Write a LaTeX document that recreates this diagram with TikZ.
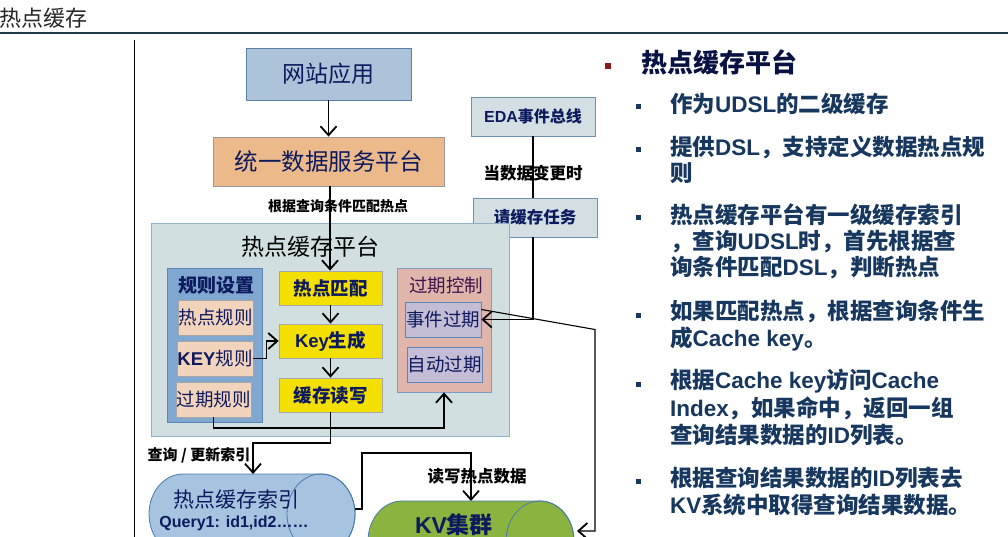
\documentclass[tikz,border=0pt]{standalone}
\usepackage{fontspec}
\setmainfont{Noto Sans CJK SC}
\newfontfamily\latin{Liberation Sans}
\usetikzlibrary{arrows.meta,calc}
\definecolor{navy}{HTML}{0D1A5E}
\definecolor{txtblue}{HTML}{17375E}
\definecolor{bulletred}{HTML}{8B1A1A}
\definecolor{webfill}{HTML}{ADC3D9}
\definecolor{webdraw}{HTML}{5B7FA6}
\definecolor{udfill}{HTML}{ECB98B}
\definecolor{grayfill}{HTML}{D3DFE3}
\definecolor{graydraw}{HTML}{6E8FAE}
\definecolor{bigfill}{HTML}{D2DFE0}
\definecolor{bigdraw}{HTML}{90AEC4}
\definecolor{rulefill}{HTML}{7FA7D0}
\definecolor{ruledraw}{HTML}{5B86B8}
\definecolor{peach}{HTML}{F2D4BD}
\definecolor{yel}{HTML}{F4E000}
\definecolor{pinkfill}{HTML}{E0B5AB}
\definecolor{lav}{HTML}{C4BDD5}
\definecolor{idxfill}{HTML}{A6C4E0}
\definecolor{cyldraw}{HTML}{4A7AAA}
\definecolor{kvfill}{HTML}{8AB43F}
\definecolor{topline}{HTML}{1F3A48}
\newcommand\fz[1]{\fontsize{#1}{#1}\selectfont}
\newcommand\lt[1]{{\latin #1}}
\begin{document}
\begin{tikzpicture}[x=1pt,y=-1pt,
  box/.style={draw, rectangle, inner sep=0pt, line width=0.8pt, text=navy, align=center},
  arr/.style={-{Straight Barb[length=9pt,width=16pt,line width=1.8pt]}, line width=1.1pt},
  ln/.style={line width=1.1pt},
  lbl/.style={inner sep=0pt, text=black},
  sq/.style={fill=txtblue, minimum size=5pt, inner sep=0pt},
  rtxt/.style={anchor=west, inner sep=0pt, text=txtblue, font=\fz{22.5}\bfseries}
]
\useasboundingbox[fill=white] (0,0) rectangle (1008,537);

% header
\node[lbl, anchor=west, text=black!85, font=\fz{22}] (title) at (-1,18) {热点缓存};
\draw[topline, line width=1.2pt] (0,33) coordinate (hl) -- (1008,33) coordinate (hr);
\draw[black, line width=1pt] (134,40) coordinate (vt) -- (134,537) coordinate (vb);

% top boxes
\node[box, fill=webfill, draw=webdraw, minimum width=165pt, minimum height=52pt, font=\fz{23}] (web) at (328.5,74) {网站应用};
\node[box, fill=udfill, draw=gray!80, minimum width=231pt, minimum height=49pt, font=\fz{23.5}] (ud) at (328.5,161.5) {统一数据服务平台};
\node[box, fill=grayfill, draw=graydraw, minimum width=124pt, minimum height=39pt, font=\fz{16}\bfseries] (eda) at (533,116.5) {\lt{EDA}事件总线};
\node[box, fill=grayfill, draw=graydraw, minimum width=124pt, minimum height=39pt, font=\fz{16.5}\bfseries] (task) at (535,217.5) {请缓存任务};

% big platform
\node[box, fill=bigfill, draw=bigdraw, minimum width=358pt, minimum height=213pt] (hcp) at (330.5,329.5) {};
\node[lbl, font=\fz{23}] (hcpt) at (310,247) {热点缓存平台};

% rules panel
\node[box, fill=rulefill, draw=ruledraw, minimum width=95pt, minimum height=154pt] (rules) at (214.5,345) {};
\node[lbl, text=navy, font=\fz{19}\bfseries] (rulest) at (216,285) {规则设置};
\node[box, fill=peach, draw=gray!70, minimum width=75pt, minimum height=35pt, font=\fz{18.5}] (hotrule) at (215.5,317.5) {热点规则};
\node[box, fill=peach, draw=gray!70, minimum width=76pt, minimum height=35pt, font=\fz{18.5}] (keyrule) at (215,358.5) {\lt{\bfseries KEY}规则};
\node[box, fill=peach, draw=gray!70, minimum width=75pt, minimum height=35pt, font=\fz{18.5}] (exprule) at (213.5,399.5) {过期规则};

% middle column
\node[box, fill=yel, draw=gray!70, minimum width=103pt, minimum height=34pt, font=\fz{18.5}\bfseries] (match) at (330.5,288) {热点匹配};
\node[box, fill=yel, draw=gray!70, minimum width=103pt, minimum height=34pt, font=\fz{18.5}\bfseries] (keygen) at (330.5,341) {\lt{Key}生成};
\node[box, fill=yel, draw=gray!70, minimum width=103pt, minimum height=34pt, font=\fz{18.5}\bfseries] (rw) at (330.5,395) {缓存读写};

% expiry panel
\node[box, fill=pinkfill, draw=ruledraw!80, minimum width=94pt, minimum height=124pt] (expctl) at (444,330) {};
\node[lbl, text=navy!80!red, font=\fz{18.5}] (expctlt) at (446,285) {过期控制};
\node[box, fill=lav, draw=ruledraw, minimum width=76pt, minimum height=35pt, font=\fz{18.5}] (evexp) at (443,319.5) {事件过期};
\node[box, fill=lav, draw=ruledraw, minimum width=75pt, minimum height=35pt, font=\fz{18.5}] (autoexp) at (444.5,364.5) {自动过期};

% cylinders
\draw[fill=idxfill, draw=cyldraw, line width=0.8pt]
  (183,474) -- (321,474) arc (-90:90:34 and 40) -- (183,554) arc (90:270:34 and 40) -- cycle;
\draw[draw=cyldraw, line width=0.8pt] (321,514) ellipse (34 and 40);
\node[lbl, text=navy, font=\fz{21}] (idxt) at (236,500) {热点缓存索引};
\node[lbl, text=navy, font=\fz{16}\bfseries\latin] (idxq) at (234,523) {Query1: id1,id2……};
\coordinate (idxtop) at (253,474);
\coordinate (idxr) at (355,509);

\draw[fill=kvfill, draw=cyldraw, line width=0.8pt]
  (402,501) -- (540,501) arc (-90:90:34 and 40) -- (402,581) arc (90:270:34 and 40) -- cycle;
\draw[draw=cyldraw, line width=0.8pt] (540,541) ellipse (34 and 40);
\node[lbl, text=navy, font=\fz{23}\bfseries] (kvt) at (454,525) {\lt{KV}集群};
\coordinate (kvtop) at (471,501);
\coordinate (kvr) at (577,531);

% connectors
\draw[arr] (web.south) -- (web.south |- ud.north);
\draw[arr] (ud.south -| 330,0) -- (330,0 |- match.north);
\node[lbl, font=\fz{14}\bfseries] (lbl1) at (338,206) {根据查询条件匹配热点};

\draw[ln] (eda.south) -- (eda.south |- task.north);
\node[lbl, font=\fz{16.5}\bfseries] (lbl2) at (533,173) {当数据变更时};
\draw[arr] (eda.south |- task.south) |- (evexp.east);

\draw[arr] (match.south) -- (keygen.north);
\draw[arr] (keygen.south) -- (rw.north);
\draw[arr] (keyrule.east) -- ++(13,0) |- (keygen.west);

\coordinate (row1) at (0,428);
\draw[arr] (exprule.south) -- (exprule.south |- row1) -| (expctl.south);

\coordinate (row2) at (0,443);
\draw[arr] (rw.south) -- (rw.south |- row2) -| (idxtop);
\node[lbl, font=\fz{15}\bfseries] (lbl3) at (199,455) {查询 / 更新索引};

\draw[arr] (idxr) -- (362,509) -- (362,453) -| (kvtop);
\node[lbl, font=\fz{16.5}\bfseries] (lbl4) at (477,476) {读写热点数据};

\draw[arr] ($(evexp.east)+(0,-10)$) -- (595,329.5) -- (595,531) -- (kvr);

% right text
\node[fill=bulletred, minimum size=6.5pt, inner sep=0pt] (mb) at (608,66) {};
\node[anchor=west, inner sep=0pt, text=navy!70!black, font=\fz{26}\bfseries] (mt) at (641,62) {热点缓存平台};

\node[sq] (b1) at (638,107) {};
\node[rtxt] (t1) at (670,104) {作为\lt{UDSL}的二级缓存};
\node[sq] (b2) at (638,150) {};
\node[rtxt] (t2a) at (670,147) {提供\lt{DSL}，支持定义数据热点规};
\node[rtxt] (t2b) at (670,173) {则};
\node[sq] (b3) at (638,218) {};
\node[rtxt] (t3a) at (670,215) {热点缓存平台有一级缓存索引};
\node[rtxt] (t3b) at (670,242) {，查询\lt{UDSL}时，首先根据查};
\node[rtxt] (t3c) at (670,268) {询条件匹配\lt{DSL}，判断热点};
\node[sq] (b4) at (638,315) {};
\node[rtxt] (t4a) at (670,312) {如果匹配热点，根据查询条件生};
\node[rtxt] (t4b) at (670,339) {成\lt{Cache key}。};
\node[sq] (b5) at (638,384) {};
\node[rtxt] (t5a) at (670,381) {根据\lt{Cache key}访问\lt{Cache}};
\node[rtxt] (t5b) at (670,408) {\lt{Index}，如果命中，返回一组};
\node[rtxt] (t5c) at (670,435) {查询结果数据的\lt{ID}列表。};
\node[sq] (b6) at (638,481) {};
\node[rtxt] (t6a) at (670,478) {根据查询结果数据的\lt{ID}列表去};
\node[rtxt] (t6b) at (670,505) {\lt{KV}系统中取得查询结果数据。};
\end{tikzpicture}
\end{document}
